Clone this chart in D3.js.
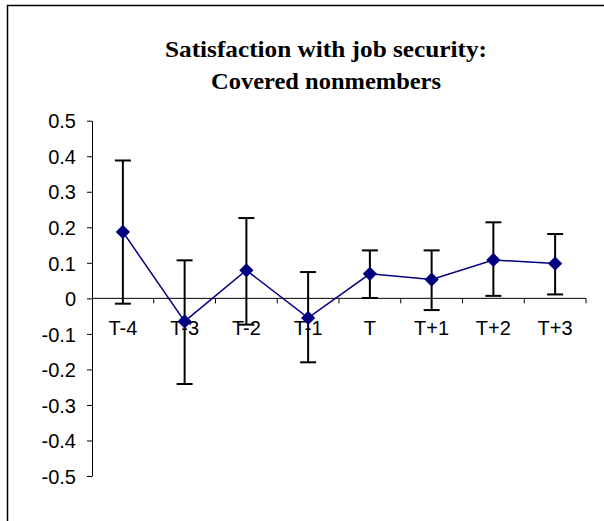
<!DOCTYPE html>
<html>
<head>
<meta charset="utf-8">
<script src="https://cdn.jsdelivr.net/npm/d3@7/dist/d3.min.js"></script>
<style>
  html, body { margin: 0; padding: 0; background: #fff; }
  svg { display: block; }
</style>
</head>
<body>
<script>
const categories = ["T-4", "T-3", "T-2", "T-1", "T", "T+1", "T+2", "T+3"];
const values = [0.187, -0.065, 0.079, -0.055, 0.069, 0.053, 0.108, 0.098];
const upper = [0.388, 0.107, 0.226, 0.074, 0.135, 0.135, 0.214, 0.181];
const lower = [-0.015, -0.241, -0.074, -0.180, 0.001, -0.033, 0.007, 0.011];
const yTicks = [0.5, 0.4, 0.3, 0.2, 0.1, 0, -0.1, -0.2, -0.3, -0.4, -0.5];
const titleLines = ["Satisfaction with job security:", "Covered nonmembers"];

const W = 604, H = 521;
const svg = d3.select("body").append("svg").attr("width", W).attr("height", H);

// frame (top and left edges visible)
svg.append("path").attr("d", "M7.5,521 L7.5,5.5 L604,5.5")
  .attr("fill", "none").attr("stroke", "#000").attr("stroke-width", 1.5);

// title
const titleSpecs = [{y: 57, len: 322}, {y: 89, len: 230}];
titleLines.forEach((t, i) => {
  svg.append("text")
    .attr("x", 326).attr("y", titleSpecs[i].y)
    .attr("text-anchor", "middle")
    .attr("font-family", "'Liberation Serif', 'Times New Roman', serif")
    .attr("font-weight", "bold")
    .attr("font-size", 24)
    .attr("textLength", titleSpecs[i].len)
    .attr("lengthAdjust", "spacingAndGlyphs")
    .text(t);
});

const x = d3.scaleBand().domain(categories).range([92, 586]);
const y = d3.scaleLinear().domain([-0.5, 0.5]).range([476, 120.7]);

// y axis
const fmt = d => d === 0 ? "0" : d3.format(".1f")(d).replace("\u2212", "-");
const yAxis = d3.axisLeft(y).tickValues(yTicks).tickSize(5).tickSizeOuter(0).tickFormat(fmt);
const gy = svg.append("g").attr("transform", "translate(92,0)").call(yAxis);
gy.select(".domain").attr("stroke", "#000").attr("stroke-width", 1);
gy.selectAll(".tick line").attr("stroke", "#000");
gy.selectAll(".tick text")
  .attr("font-family", "'Liberation Sans', Arial, sans-serif")
  .attr("font-size", 20).attr("fill", "#000").attr("x", -16).attr("dy", "0.36em");

// x axis at y = 0 with ticks at category boundaries
const gx = svg.append("g").attr("transform", `translate(0,${y(0)})`);
gx.append("line").attr("x1", 92).attr("x2", 586).attr("stroke", "#000").attr("stroke-width", 1);
const bounds = categories.map(c => x(c)).concat([x.range()[1]]);
gx.selectAll("line.tk").data(bounds.slice(1)).join("line").attr("class", "tk")
  .attr("x1", d => d).attr("x2", d => d).attr("y1", 0).attr("y2", 5)
  .attr("stroke", "#000");
gx.selectAll("text").data(categories).join("text")
  .attr("x", d => x(d) + x.bandwidth() / 2)
  .attr("y", 37)
  .attr("text-anchor", "middle")
  .attr("font-family", "'Liberation Sans', Arial, sans-serif")
  .attr("font-size", 20)
  .text(d => d);

const cx = (i) => x(categories[i]) + x.bandwidth() / 2;

// error bars
const eb = svg.append("g").attr("stroke", "#000").attr("stroke-width", 2);
categories.forEach((c, i) => {
  eb.append("line").attr("x1", cx(i)).attr("x2", cx(i)).attr("y1", y(upper[i])).attr("y2", y(lower[i]));
  eb.append("line").attr("x1", cx(i) - 8).attr("x2", cx(i) + 8).attr("y1", y(upper[i])).attr("y2", y(upper[i]));
  eb.append("line").attr("x1", cx(i) - 8).attr("x2", cx(i) + 8).attr("y1", y(lower[i])).attr("y2", y(lower[i]));
});

// line
const line = d3.line().x((d, i) => cx(i)).y(d => y(d));
svg.append("path").datum(values).attr("d", line)
  .attr("fill", "none").attr("stroke", "#000080").attr("stroke-width", 1.5);

// markers
svg.selectAll("path.mk").data(values).join("path").attr("class", "mk")
  .attr("d", d3.symbol().type(d3.symbolDiamond2).size(130))
  .attr("transform", (d, i) => `translate(${cx(i)},${y(d)})`)
  .attr("fill", "#000080");
</script>
</body>
</html>
